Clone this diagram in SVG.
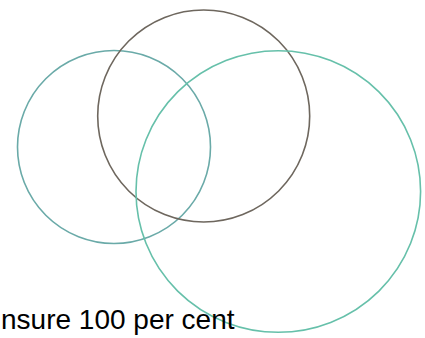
<svg xmlns="http://www.w3.org/2000/svg" width="425" height="338" viewBox="0 0 425 338">
<style>
.c{fill:none;stroke-width:1.6}
.t{font-family:"Liberation Sans",Arial,sans-serif;font-size:28px;fill:#000}
</style>
<rect width="425" height="338" fill="#fff"/>
<g id="left"><circle class="c" cx="114" cy="147" r="96.5" stroke="#6aaaa8"/></g>
<g id="top"><circle class="c" cx="203.7" cy="116" r="106" stroke="#6e675e"/></g>
<g id="right"><ellipse class="c" cx="278.3" cy="191.5" rx="142.3" ry="140.8" stroke="#66c0aa"/></g>
<g id="label"><text class="t" x="1" y="329">nsure 100 per cent</text></g>
</svg>
